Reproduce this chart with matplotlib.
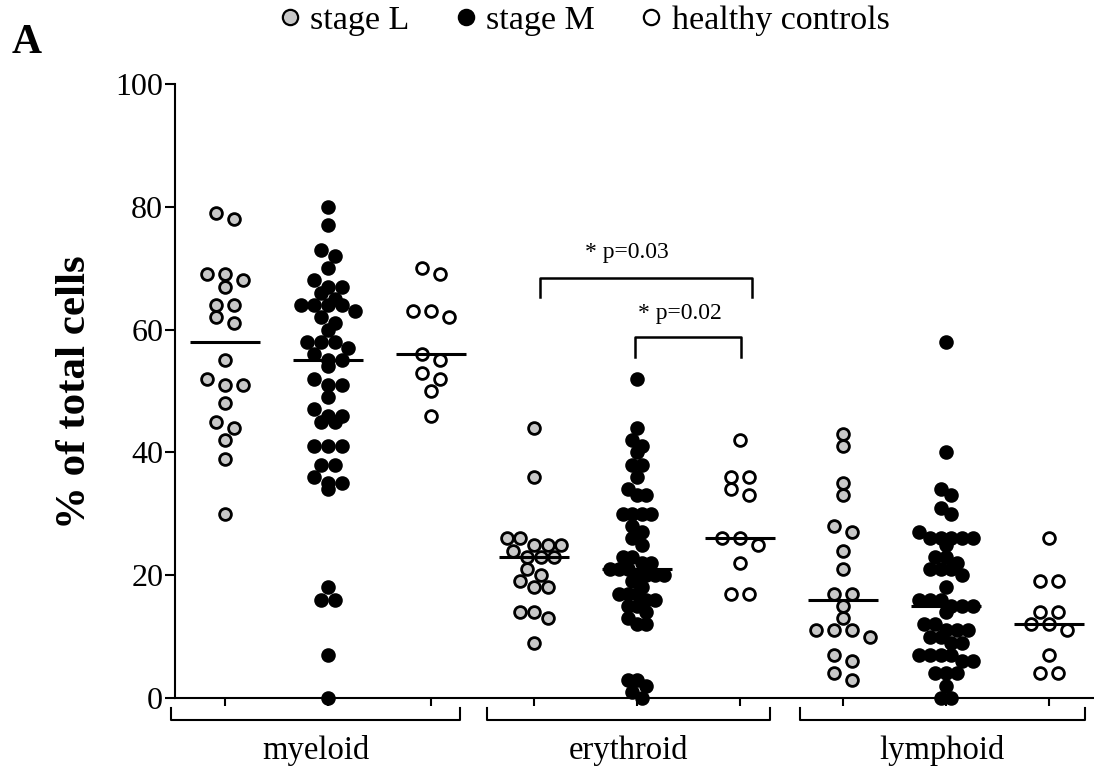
import numpy as np
import matplotlib
matplotlib.use('Agg')
import matplotlib.pyplot as plt
from matplotlib.lines import Line2D
import matplotlib.transforms as mtransforms

plt.rcParams['font.family'] = ['Liberation Serif', 'DejaVu Serif']

# ---------------- data ----------------
lineages = ['myeloid', 'erythroid', 'lymphoid']
series_names = ['stage L', 'stage M', 'healthy controls']

myeloid_L = [79, 78, 69, 69, 68, 67, 64, 64, 62, 61, 55, 52, 51, 51, 48, 45, 44, 42, 39, 30]
myeloid_M = [80, 77, 73, 72, 70, 68, 67, 67, 66, 65, 64, 64, 64, 64, 63, 62, 61, 60,
             58, 58, 58, 57, 56, 55, 55, 54, 52, 51, 51, 49, 47, 46, 46, 45, 45,
             41, 41, 41, 38, 38, 36, 35, 35, 34, 18, 16, 16, 7, 0]
myeloid_C = [70, 69, 63, 63, 62, 56, 55, 53, 52, 50, 46]

erythroid_L = [44, 36, 26, 26, 25, 25, 25, 24, 23, 23, 23, 21, 20, 19, 18, 18, 14, 14, 13, 9]
erythroid_M = [52, 44, 42, 41, 40, 38, 38, 36, 34, 33, 33, 30, 30, 30, 30, 28, 27, 26, 25, 23,
               23, 22, 22, 21, 21, 21, 20, 20, 20, 20, 19, 18, 17, 17, 17, 16, 16, 15, 15,
               14, 13, 12, 12, 3, 3, 2, 1, 0]
erythroid_C = [42, 36, 36, 34, 33, 26, 26, 25, 22, 17, 17]

lymphoid_L = [43, 41, 35, 33, 28, 27, 24, 21, 17, 17, 15, 13, 11, 11, 11, 10, 7, 6, 4, 3]
lymphoid_M = [58, 40, 34, 33, 31, 30, 27, 26, 26, 26, 26, 26, 25, 23, 23, 22, 21, 21, 21, 20, 18,
              16, 16, 16, 15, 15, 15, 14, 12, 12, 11, 11, 11, 10, 10, 9, 9, 7, 7, 7, 7,
              6, 6, 4, 4, 4, 2, 0, 0]
lymphoid_C = [26, 19, 19, 14, 14, 12, 12, 11, 7, 4, 4]

groups = [myeloid_L, myeloid_M, myeloid_C,
          erythroid_L, erythroid_M, erythroid_C,
          lymphoid_L, lymphoid_M, lymphoid_C]

yticks = [0, 20, 40, 60, 80, 100]
annotations = [('* p=0.03', 3, 5), ('* p=0.02', 4, 5)]

# ---------------- styles ----------------
face = ['#c8c8c8', 'black', 'white']
W, H = 1094, 784


def swarm_offsets(vals, thr=1.9, step=0.175, max_span=0.53):
    vals = np.asarray(vals, float)
    order = np.argsort(-vals, kind='stable')
    rows, cur = [], []
    for i in order:
        if cur and vals[cur[0]] - vals[i] > thr:
            rows.append(cur)
            cur = []
        cur.append(i)
    if cur:
        rows.append(cur)
    nmax = max(len(r) for r in rows)
    st = step if (nmax - 1) * step <= max_span else max_span / (nmax - 1)
    off = np.zeros(len(vals))
    for r in rows:
        n = len(r)
        for k, i in enumerate(r):
            off[i] = (k - (n - 1) / 2) * st
    return off


fig = plt.figure(figsize=(W / 100, H / 100), dpi=100)
ax = fig.add_axes([175 / W, 86 / H, 919 / W, 614 / H])
ax.set_xlim(-0.485, 8.437)
ax.set_ylim(0, 100)

for gi, vals in enumerate(groups):
    s = gi % 3
    off = swarm_offsets(vals)
    ax.scatter(gi + off, vals, s=72, facecolor=face[s], edgecolor='black',
               linewidth=2.0, zorder=3, clip_on=False)
    med = np.median(vals)
    ax.plot([gi - 0.34, gi + 0.34], [med, med], color='black', lw=2.2, zorder=4,
            solid_capstyle='butt')

# axes styling
for sp in ['top', 'right']:
    ax.spines[sp].set_visible(False)
ax.spines['left'].set_linewidth(1.5)
ax.spines['bottom'].set_linewidth(1.5)
ax.set_yticks(yticks)
ax.set_yticklabels([str(t) for t in yticks], fontsize=23)
ax.tick_params(axis='y', length=7, width=1.5, pad=1.5)
ax.set_xticks(range(len(groups)))
ax.set_xticklabels([])
ax.tick_params(axis='x', length=6, width=1.5, direction='out')

# group brackets beneath the axis
trans = mtransforms.blended_transform_factory(ax.transData, ax.transAxes)
spans = [(-0.52, 2.28), (2.54, 5.29), (5.58, 8.35)]
for (a, b), name in zip(spans, lineages):
    ax.plot([a, a, b, b], [-0.017, -0.036, -0.036, -0.017], color='black', lw=1.5,
            transform=trans, clip_on=False)
    ax.text((a + b) / 2, -0.085, name, transform=trans, ha='center', va='center',
            fontsize=23.5)

# significance brackets
br = [(3.06, 5.12, 68.4, 65.3, 72.6, 3.90), (3.98, 5.01, 58.8, 55.5, 62.6, 4.42)]
for (txt, g1, g2), (x1, x2, yt, yb, ytx, xtx) in zip(annotations, br):
    ax.plot([x1, x1, x2, x2], [yb, yt, yt, yb], color='black', lw=1.8, clip_on=False)
    ax.text(xtx, ytx, txt, ha='center', va='center', fontsize=17)

# labels
fig.text(75 / W, 1 - 392 / H, '% of total cells', rotation=90, ha='center', va='center',
         fontsize=31, fontweight='bold')
fig.text(12 / W, 1 - 43 / H, 'A', ha='left', va='center', fontsize=30, fontweight='bold')

handles = [Line2D([], [], marker='o', linestyle='none', markersize=11,
                  markerfacecolor=face[i], markeredgecolor='black', markeredgewidth=1.6)
           for i in range(3)]
fig.legend(handles, series_names, loc='center', bbox_to_anchor=(582 / W, 1 - 21 / H),
           ncol=3, frameon=False, fontsize=24.5, handletextpad=0.15, columnspacing=1.2,
           handlelength=0.9, borderpad=0)

fig.savefig('out.png', dpi=100)
